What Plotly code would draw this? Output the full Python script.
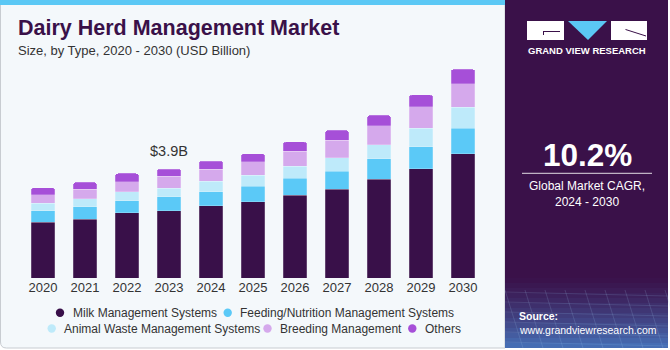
import plotly.graph_objects as go

# ---------------- data ----------------
years = ["2020", "2021", "2022", "2023", "2024", "2025", "2026", "2027", "2028", "2029", "2030"]
series_names = [
    "Milk Management Systems",
    "Feeding/Nutrition Management Systems",
    "Animal Waste Management Systems",
    "Breeding Management",
    "Others",
]
milk = [2.00, 2.11, 2.33, 2.40, 2.58, 2.73, 2.96, 3.18, 3.53, 3.91, 4.45]
feeding = [0.40, 0.44, 0.44, 0.50, 0.51, 0.56, 0.61, 0.64, 0.73, 0.79, 0.91]
waste = [0.28, 0.29, 0.32, 0.32, 0.37, 0.39, 0.43, 0.48, 0.50, 0.66, 0.75]
breeding = [0.30, 0.33, 0.36, 0.42, 0.43, 0.48, 0.54, 0.62, 0.68, 0.76, 0.84]
others = [0.25, 0.25, 0.29, 0.26, 0.29, 0.29, 0.33, 0.36, 0.38, 0.43, 0.52]
series_values = [milk, feeding, waste, breeding, others]
colors = ["#391049", "#5BC9F7", "#BEEAFA", "#D5A9EC", "#A64FD8"]

label_year = "2023"
label_text = "$3.9B"

title_text = "Dairy Herd Management Market"
subtitle_text = "Size, by Type, 2020 - 2030 (USD Billion)"
cagr_value = "10.2%"
cagr_lines = ["Global Market CAGR,", "2024 - 2030"]
brand_text = "GRAND VIEW RESEARCH"
source_lines = ["Source:", "www.grandviewresearch.com"]

# ---------------- layout geometry (pixels) ----------------
FW, FH = 670, 350
L, W = 22, 462          # plot area left / width
T, H = 60, 218          # plot area top / height


def px(x):
    return (x - L) / W


def py(y):
    return (T + H - y) / H


def poly(points, close=True):
    s = " ".join(("M" if i == 0 else "L") + f" {px(a):.5f},{py(b):.5f}" for i, (a, b) in enumerate(points))
    return s + (" Z" if close else "")


FONT = "Liberation Sans, Arial, sans-serif"
DARK = "#3A1149"

fig = go.Figure()
for name, vals, col in zip(series_names, series_values, colors):
    fig.add_trace(go.Bar(
        x=years, y=vals, name=name,
        marker=dict(color=col, line=dict(width=0.6, color="rgba(255,255,255,0.35)")),
        showlegend=False, hoverinfo="x+y+name",
    ))

shapes = []
annotations = []

# left panel background
r = 6
x0, y0, x1, y1 = 0.5, 0.5, 505, 348
path = (f"M {px(x0)},{py(y0)} L {px(x1)},{py(y0)} L {px(x1)},{py(y1)} "
        f"L {px(x0 + r)},{py(y1)} Q {px(x0)},{py(y1)} {px(x0)},{py(y1 - r)} Z")
shapes.append(dict(type="path", xref="paper", yref="paper", path=path,
                   fillcolor="#F4F8FB", line=dict(color="#C8CCD1", width=1), layer="below"))
# top blue stripe
shapes.append(dict(type="rect", xref="paper", yref="paper", x0=px(0), x1=px(505), y0=py(5), y1=py(0),
                   fillcolor="#5BC8F5", line=dict(width=0), layer="below"))
# right panel
shapes.append(dict(type="rect", xref="paper", yref="paper", x0=px(505), x1=px(668), y0=py(348), y1=py(0),
                   fillcolor=DARK, line=dict(width=0), layer="below"))
# gradient at bottom of right panel
n = 14
for i in range(n):
    ya = 278 + i * 5
    a = ((i + 1) / n) ** 1.3 * 0.75
    shapes.append(dict(type="rect", xref="paper", yref="paper", x0=px(505), x1=px(668),
                       y0=py(ya + 5), y1=py(ya),
                       fillcolor=f"rgba(75,140,215,{a:.3f})", line=dict(width=0), layer="below"))
# faint mesh lines
for k in range(9):
    xs = 505 + k * 20
    shapes.append(dict(type="line", xref="paper", yref="paper", x0=px(xs), x1=px(xs + 18),
                       y0=py(290), y1=py(348), line=dict(color="rgba(160,200,240,0.25)", width=0.7),
                       layer="below"))
for k in range(6):
    yy = 292 + k * 10
    shapes.append(dict(type="line", xref="paper", yref="paper", x0=px(505), x1=px(668),
                       y0=py(yy), y1=py(yy + 4), line=dict(color="rgba(160,200,240,0.22)", width=0.7),
                       layer="below"))


def box(xa, xb, ya, yb, color):
    # solid box drawn as an annotation background
    annotations.append(dict(text=" ", xref="paper", yref="paper",
                            x=px(xa), y=py(ya), xanchor="left", yanchor="top",
                            width=xb - xa, height=yb - ya, borderpad=0, borderwidth=0,
                            bgcolor=color, showarrow=False, font=dict(size=1)))


# logo: two white blocks, blue triangle, dark notches
box(527, 564, 21, 40, "#FFFFFF")
box(611, 647, 21, 40, "#FFFFFF")
box(543, 560, 30.5, 31.5, DARK)
box(542.5, 543.5, 30.5, 34, DARK)
annotations.append(dict(text="", xref="paper", yref="paper", x=px(646), y=py(36),
                        showarrow=True, arrowhead=0, arrowwidth=1, arrowcolor=DARK,
                        ax=-22, ay=-7, standoff=0, startstandoff=0))
shapes.append(dict(type="path", xref="paper", yref="paper",
                   path=poly([(568, 21), (607, 21), (588, 40)]),
                   fillcolor="#5BC8F5", line=dict(width=0)))
# CAGR divider line
shapes.append(dict(type="line", xref="paper", yref="paper", x0=px(522), x1=px(652), y0=py(173.3), y1=py(173.3),
                   line=dict(color="rgba(255,255,255,0.85)", width=1)))


def ann(text, x, y, size, color, xanchor="left", bold=False, family=FONT):
    annotations.append(dict(
        text=f"<b>{text}</b>" if bold else text, xref="paper", yref="paper",
        x=px(x), y=py(y), xanchor=xanchor, yanchor="middle", showarrow=False,
        font=dict(family=family, size=size, color=color)))


ann(title_text, 16, 28, 21.5, DARK, bold=True)
ann(subtitle_text, 16, 50, 13, "#333333")
ann(brand_text, 587, 51, 9.5, "white", xanchor="center", bold=True)
ann(cagr_value, 587, 155, 31.5, "white", xanchor="center", bold=True)
ann(cagr_lines[0], 587, 186, 12, "white", xanchor="center")
ann(cagr_lines[1], 587, 201.5, 12, "white", xanchor="center")
ann(source_lines[0], 517, 315.5, 10.5, "white", bold=True)
ann(source_lines[1], 517, 330, 10.5, "white")

# value label on 2023 bar (category index used for position)
idx = years.index(label_year)
total = sum(v[idx] for v in series_values)
annotations.append(dict(text=label_text, x=idx, y=total, xref="x", yref="y",
                        yanchor="bottom", yshift=8, showarrow=False,
                        font=dict(family=FONT, size=14.5, color="#333333")))

# custom legend (two centred rows)
legend_rows = [([0, 1], 312.7, [60, 227.7]), ([2, 3, 4], 328.5, [51.7, 267.5, 412.3])]
for items, ly, mxs in legend_rows:
    for i, mx in zip(items, mxs):
        shapes.append(dict(type="circle", xref="paper", yref="paper",
                           x0=px(mx - 4.2), x1=px(mx + 4.2), y0=py(ly + 4.2), y1=py(ly - 4.2),
                           fillcolor=colors[i], line=dict(width=0)))
        ann(series_names[i], mx + 10.5, ly, 12, "#333333")

fig.update_layout(
    width=FW, height=FH,
    margin=dict(l=L, r=FW - L - W, t=T, b=FH - T - H, pad=0),
    paper_bgcolor="white", plot_bgcolor="rgba(0,0,0,0)",
    barmode="stack", bargap=0.43, barcornerradius=3,
    showlegend=False,
    xaxis=dict(type="category", range=[-0.5, 10.5], showgrid=False, showline=False, zeroline=False,
               ticks="", tickfont=dict(family=FONT, size=13, color="#333333")),
    yaxis=dict(visible=False, range=[0, 7.8], showgrid=False, zeroline=False),
    shapes=shapes, annotations=annotations,
    font=dict(family=FONT),
)

fig.write_html("out.html")
